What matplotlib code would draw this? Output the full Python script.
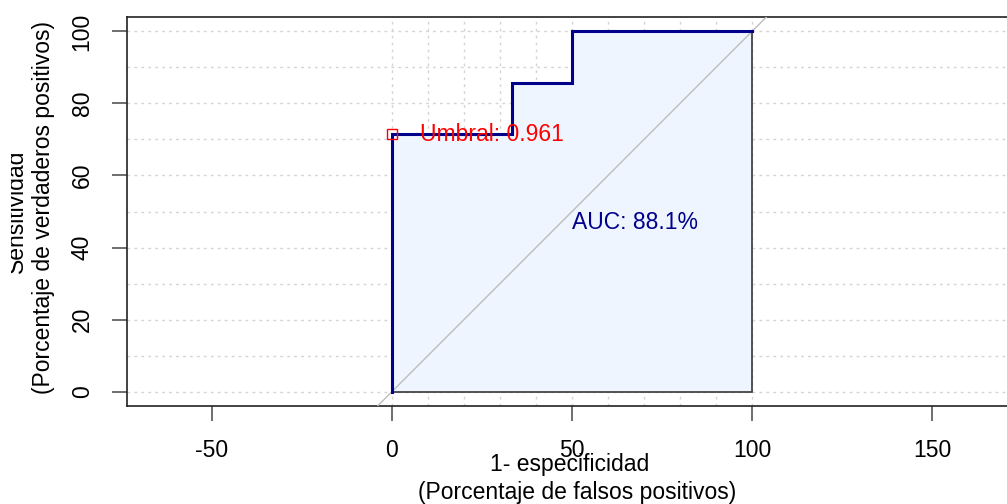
import numpy as np
import matplotlib.pyplot as plt
from matplotlib.transforms import Bbox

plt.rcParams['font.family'] = ['Liberation Sans', 'DejaVu Sans']

# curva ROC (porcentajes)
fpr = [0, 0, 33.3, 33.3, 50, 50, 100]
tpr = [0, 71.4, 71.4, 85.7, 85.7, 100, 100]
umbral = 0.961
umbral_punto = (0, 71.4)
auc = 88.1
xticks = [-50, 0, 50, 100, 150]
yticks = [0, 20, 40, 60, 80, 100]
grid_vals = np.arange(0, 101, 10)

FS = 16.5
W, H = 1007, 504
fig = plt.figure(figsize=(W / 100, H / 100), dpi=100)
ax = fig.add_axes([127 / W, (H - 406) / H, (1017 - 127) / W, (406 - 17) / H])
ax.set_xlim(-73.6, 173.6)
ax.set_ylim(-4, 104)

# rejilla
for g in grid_vals:
    ax.axhline(g, color='#d4d4d4', ls=(0, (2, 3)), lw=1, zorder=0)
    ax.axvline(g, color='#d4d4d4', ls=(0, (2, 3)), lw=1, zorder=0)

# diagonal
ax.plot([-10, 110], [-10, 110], color='#bdbdbd', lw=1, zorder=3)

# poligono AUC
px = fpr + [100, 0]
py = tpr + [0, 0]
ax.fill(px, py, facecolor='#eef5ff', edgecolor='#444444', lw=1.3, zorder=1)
ax.plot(fpr, tpr, color='#00008b', lw=2.2, zorder=4, solid_joinstyle='miter')

# umbral
ax.plot(*umbral_punto, marker='s', ms=7, mfc='none', mec='red', mew=1, zorder=5)
ax.text(umbral_punto[0] + 7.8, umbral_punto[1], f'Umbral: {umbral}', color='red',
        fontsize=FS, va='center', ha='left', zorder=6)
ax.text(50, 47, f'AUC: {auc}%', color='#00008b', fontsize=FS, va='center', ha='left', zorder=6)

ax.set_xticks(xticks)
ax.set_xticklabels([str(t) for t in xticks])
ax.set_yticks(yticks)
ax.set_yticklabels([str(t) for t in yticks], rotation=90, va='center')
ax.tick_params(axis='both', length=11, width=1.2, color='#555555', labelsize=FS, pad=13)
for s in ax.spines.values():
    s.set_color('#222222')
    s.set_linewidth(1.2)

fig.text(570 / W, 1 - 464 / H, '1- especificidad', fontsize=FS, ha='center', va='center')
fig.text(577 / W, 1 - 492 / H, '(Porcentaje de falsos positivos)', fontsize=FS, ha='center', va='center')
t = fig.text(16 / W, 1 - 211 / H, 'Sensitividad', fontsize=FS, ha='center', va='center', rotation=90)
# en la original esta linea sale recortada por el borde
t.set_clip_box(Bbox([[11, 0], [W, H]]))
t.set_clip_on(True)
fig.text(44 / W, 1 - 208 / H, '(Porcentaje de verdaderos positivos)', fontsize=FS, ha='center', va='center', rotation=90)

fig.savefig('out.png', dpi=100)
